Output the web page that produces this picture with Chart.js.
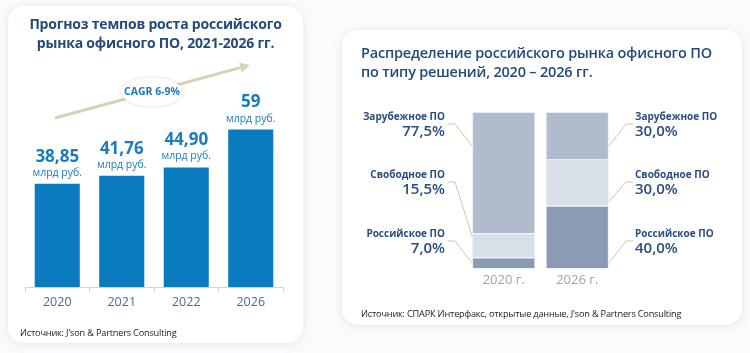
<!DOCTYPE html>
<html lang="ru">
<head>
  <meta charset="UTF-8">
  <title>Рынок офисного ПО</title>
  <script src="https://cdn.jsdelivr.net/npm/chart.js"></script>
  <style>
    body { margin: 0; width: 750px; height: 353px; background: #fafbfc; font-family: 'Open Sans', sans-serif; position: relative; overflow: hidden; }
    .card { position: absolute; background: #fff; border-radius: 16px; box-shadow: 0 1px 10px rgba(140,150,175,0.22); }
    .card canvas { position: absolute; left: 0; top: 0; }
    .title { position: absolute; color: #244a7c; font-weight: 700; font-size: 14px; line-height: 19px; letter-spacing: -0.2px; }
    .source { position: absolute; color: #222; font-size: 9.2px; letter-spacing: -0.2px; }
    #cardLeft { left: 8px; top: 6px; width: 295px; height: 337px; }
    #cardRight { left: 342px; top: 30px; width: 400px; height: 295px; }
    #cardLeft .title { left: 0; right: 0; top: 8px; text-align: center; }
    #cardRight .title { left: 19px; top: 13px; font-weight: 600; font-size: 14.5px; }
    #cardLeft .source { left: 12px; top: 320px; }
    #cardRight .source { left: 19px; top: 277px; }
  </style>
</head>
<body>
  <div class="card" id="cardLeft">
    <canvas id="growthChart" width="295" height="337"></canvas>
    <div class="title">Прогноз темпов роста российского<br>рынка офисного ПО, 2021-2026 гг.</div>
    <div class="source">Источник: J'son &amp; Partners Consulting</div>
  </div>
  <div class="card" id="cardRight">
    <canvas id="shareChart" width="400" height="295"></canvas>
    <div class="title">Распределение российского рынка офисного ПО<br>по типу решений, 2020 – 2026 гг.</div>
    <div class="source">Источник: СПАРК Интерфакс, открытые данные, J'son &amp; Partners Consulting</div>
  </div>

  <script>
    // рост рынка, млрд руб.
    const years = ['2020', '2021', '2022', '2026'];
    const marketValues = [38.85, 41.76, 44.90, 59];
    const valueLabels = ['38,85', '41,76', '44,90', '59'];
    const unitLabel = 'млрд руб.';
    const cagrLabel = 'CAGR 6-9%';

    // структура рынка, %
    const shareYears = ['2020 г.', '2026 г.'];
    const segmentNames = ['Российское ПО', 'Свободное ПО', 'Зарубежное ПО'];
    const russianShare = [7.0, 40.0];
    const freeShare = [15.5, 30.0];
    const foreignShare = [77.5, 30.0];

    const blue = '#0b7bc0';
    const labelBlue = '#1a7cc0';
    const darkBlue = '#2b4c80';
    const beige = '#d8d1b4';
    const leader = '#cfc7a2';

    Chart.defaults.font.family = "'Open Sans', sans-serif";
    Chart.defaults.animation = false;

    const growthLabels = {
      id: 'growthLabels',
      afterDatasetsDraw(chart) {
        const ctx = chart.ctx;
        const bars = chart.getDatasetMeta(0).data;
        ctx.save();
        ctx.textAlign = 'center';
        ctx.textBaseline = 'middle';
        bars.forEach((bar, i) => {
          ctx.fillStyle = labelBlue;
          ctx.font = "bold 17px 'Open Sans'";
          ctx.fillText(valueLabels[i], bar.x, bar.y - 26);
          ctx.font = "10.5px 'Open Sans'";
          ctx.fillText(unitLabel, bar.x, bar.y - 10);
        });

        // стрелка CAGR
        const x0 = 47, y0 = 112, x1 = 242, y1 = 59;
        const ang = Math.atan2(y1 - y0, x1 - x0);
        ctx.strokeStyle = beige;
        ctx.lineWidth = 3;
        ctx.beginPath();
        ctx.moveTo(x0, y0);
        ctx.lineTo(x1 - 7 * Math.cos(ang), y1 - 7 * Math.sin(ang));
        ctx.stroke();
        ctx.fillStyle = beige;
        ctx.beginPath();
        ctx.moveTo(x1, y1);
        ctx.lineTo(x1 - 10 * Math.cos(ang) + 5 * Math.sin(ang), y1 - 10 * Math.sin(ang) - 5 * Math.cos(ang));
        ctx.lineTo(x1 - 10 * Math.cos(ang) - 5 * Math.sin(ang), y1 - 10 * Math.sin(ang) + 5 * Math.cos(ang));
        ctx.closePath();
        ctx.fill();

        ctx.shadowColor = 'rgba(150,150,150,0.35)';
        ctx.shadowBlur = 4;
        ctx.fillStyle = '#fff';
        ctx.beginPath();
        ctx.ellipse(144, 86, 31, 14, 0, 0, Math.PI * 2);
        ctx.fill();
        ctx.shadowColor = 'transparent';
        ctx.fillStyle = labelBlue;
        ctx.font = "bold 10.5px 'Open Sans'";
        ctx.fillText(cagrLabel, 144, 86);
        ctx.restore();
      }
    };

    new Chart(document.getElementById('growthChart'), {
      type: 'bar',
      data: {
        labels: years,
        datasets: [{
          data: marketValues,
          backgroundColor: blue,
          borderColor: 'rgba(255,255,255,0.35)',
          borderWidth: 1,
          barPercentage: 0.73,
          categoryPercentage: 1
        }]
      },
      options: {
        responsive: false,
        layout: { padding: { left: 17, right: 20, top: 93, bottom: 30 } },
        plugins: { legend: { display: false }, tooltip: { enabled: false } },
        scales: {
          x: {
            grid: { drawOnChartArea: false, color: '#d4d4d4', tickLength: 5 },
            border: { color: '#d4d4d4' },
            ticks: { color: '#4a6891', font: { size: 12.5 }, padding: 3 }
          },
          y: { display: false, min: 0, max: 70 }
        }
      },
      plugins: [growthLabels]
    });

    const fmt = v => v.toFixed(1).replace('.', ',') + '%';
    const shareSets = [russianShare, freeShare, foreignShare];

    const shareLabels = {
      id: 'shareLabels',
      afterDatasetsDraw(chart) {
        const ctx = chart.ctx;
        const top = chart.chartArea.top;
        const rows = [122, 63, 5]; // строки подписей от верха области: российское, свободное, зарубежное
        ctx.save();
        [0, 1].forEach(col => {
          const left = col === 0;
          const tx = left ? 103 : 293;
          ctx.textAlign = left ? 'right' : 'left';
          ctx.textBaseline = 'middle';
          shareSets.forEach((set, s) => {
            const bar = chart.getDatasetMeta(s).data[col];
            const ny = top + rows[s];
            ctx.fillStyle = darkBlue;
            ctx.font = "bold 10px 'Open Sans'";
            ctx.fillText(segmentNames[s], tx, ny);
            ctx.font = "600 15px 'Open Sans'";
            ctx.fillText(fmt(set[col]), tx, ny + 15);

            const segTop = Math.min(bar.y, bar.base);
            const segBot = Math.max(bar.y, bar.base);
            const ly = ny + 7;
            const ty = Math.min(Math.max(ly + 22, segTop + 3), segBot - 4);
            const edge = left ? bar.x - bar.width / 2 : bar.x + bar.width / 2;
            ctx.strokeStyle = leader;
            ctx.lineWidth = 1;
            ctx.beginPath();
            if (left) {
              ctx.moveTo(tx + 3, ly);
              ctx.lineTo(tx + 10, ly);
              ctx.lineTo(edge, ty);
            } else {
              ctx.moveTo(tx - 2, ly);
              ctx.lineTo(tx - 9, ly);
              ctx.lineTo(edge, ty);
            }
            ctx.stroke();
          });
        });
        ctx.restore();
      }
    };

    const segColors = ['#8a9bb3', '#d9dfe8', '#b0bccd'];
    new Chart(document.getElementById('shareChart'), {
      type: 'bar',
      data: {
        labels: shareYears,
        datasets: shareSets.map((set, i) => ({
          label: segmentNames[i],
          data: set,
          backgroundColor: segColors[i],
          borderColor: '#e9edf2',
          borderWidth: 1,
          barPercentage: 0.86,
          categoryPercentage: 1
        }))
      },
      options: {
        responsive: false,
        layout: { padding: { left: 125, right: 128, top: 82, bottom: 41 } },
        plugins: { legend: { display: false }, tooltip: { enabled: false } },
        scales: {
          x: {
            stacked: true,
            grid: { display: false },
            border: { display: false },
            ticks: { color: '#a3a3a3', font: { size: 13 }, padding: -4 }
          },
          y: { stacked: true, display: false, min: 0, max: 100 }
        }
      },
      plugins: [shareLabels]
    });
  </script>
</body>
</html>
